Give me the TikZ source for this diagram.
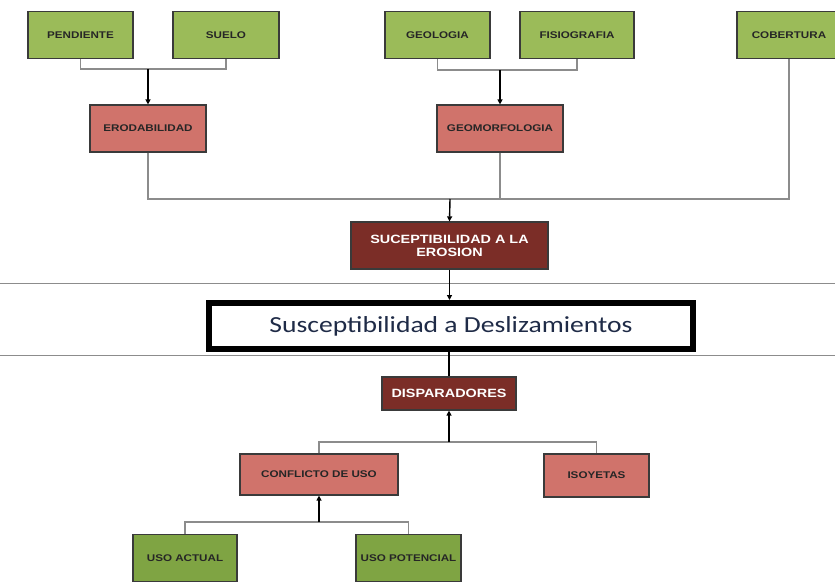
\documentclass[tikz,border=0pt]{standalone}
\usepackage{fontspec}
\setmainfont{Liberation Sans}
\newfontfamily\boxfont[FakeStretch=1.2]{Liberation Sans}
\newfontfamily\titlefont[FakeStretch=1.2]{Carlito}
\usetikzlibrary{arrows.meta}
\usetikzlibrary{positioning}
\definecolor{verde}{HTML}{9BBB59}
\definecolor{verdeosc}{HTML}{7FA443}
\definecolor{rojo}{HTML}{D0736B}
\definecolor{vino}{HTML}{7B2D27}
\definecolor{borde}{HTML}{3A3A3A}
\definecolor{gris}{HTML}{8C8C8C}
\definecolor{azul}{HTML}{1F2B47}

\begin{document}
\begin{tikzpicture}[x=1pt,y=-1pt,>={Triangle[width=5pt,length=5pt]}]
				\tikzset{caja/.style = {shape=rectangle, draw=borde, line width=1.2pt, inner sep=0pt, minimum height=47pt, text=black!85, align=center, font=\boxfont\bfseries\fontsize{9.7}{11}\selectfont},
					hoja/.style = {caja, fill=verde},
					factor/.style = {caja, fill=rojo},
					clave/.style = {caja, fill=vino, text=white, font=\boxfont\bfseries\fontsize{12}{13}\selectfont},
					enlace/.style = {draw=gris, line width=1.3pt},
					flecha/.style = {->, draw=black, line width=1.4pt}}
				\clip (0,0) rectangle (835,581);
				\fill[white] (0,0) rectangle (835,581);
				% separadores
				\draw[gris, line width=1pt] (0,283) -- (835,283);
				\draw[gris, line width=1pt] (0,355) -- (835,355);
				
				\node[hoja, minimum width=105pt] (PEND) at (80.5,35) {PENDIENTE};
				\node[hoja, minimum width=106pt] (SUELO) at (226,35) {SUELO};
				\node[hoja, minimum width=105pt] (GEOL) at (437.5,35) {GEOLOGIA};
				\node[hoja, minimum width=114pt] (FISIO) at (577,35) {FISIOGRAFIA};
				\node[hoja, minimum width=104pt] (COB) at (789,35) {COBERTURA};
				\node[factor, minimum width=116pt] (ERO) at (148,128.5) {ERODABILIDAD};
				\node[factor, minimum width=126pt] (GEOM) at (500,128.5) {GEOMORFOLOGIA};
				\node[clave, minimum width=197pt] (SUS) at (449.5,245.5) {SUCEPTIBILIDAD A LA\\EROSION};
				\node[draw=black, line width=6pt, minimum width=484pt, minimum height=46pt, inner sep=0pt, text=azul, font=\titlefont\fontsize{23}{26}\selectfont] (DESL) at (451,326) {Susceptibilidad a Deslizamientos};
				\node[clave, minimum width=134pt, minimum height=33pt] (DISP) at (449,393.5) {DISPARADORES};
				\node[factor, minimum width=158pt, minimum height=41pt] (CONF) at (319,474.5) {CONFLICTO DE USO};
				\node[factor, minimum width=105pt, minimum height=43pt] (ISO) at (596.5,475.5) {ISOYETAS};
				\node[hoja, fill=verdeosc, minimum width=104pt] (UACT) at (185,558) {USO ACTUAL};
				\node[hoja, fill=verdeosc, minimum width=105pt] (UPOT) at (408.5,558) {USO POTENCIAL};
				
				\coordinate (J1) at (148,69);
				\coordinate (J2) at (500,70);
				\coordinate (J3) at (450,199);
				\coordinate (J4) at (449,442);
				\coordinate (J5) at (319,522);
				
				\draw[enlace] (PEND.south) |- (J1) -| (SUELO.south);
				\draw[flecha] (J1) -- (ERO.north);
				\draw[enlace] (GEOL.south) |- (J2) -| (FISIO.south);
				\draw[flecha] (J2) -- (GEOM.north);
				\draw[enlace] (ERO.south) |- (J3) -| (COB.south);
				\draw[enlace] (GEOM.south) -- (GEOM.south |- J3);
				\draw[flecha] (J3) -- (SUS.north);
				\draw[flecha] (SUS.south) -- (SUS.south |- DESL.north);
				\draw[black, line width=1.4pt] (DESL.south -| DISP.north) -- (DISP.north);
				\draw[enlace] (CONF.north) |- (J4) -| (ISO.north);
				\draw[flecha] (J4) -- (DISP.south);
				\draw[enlace] (UACT.north) |- (J5) -| (UPOT.north);
				\draw[flecha] (J5) -- (CONF.south);
				
				\end{tikzpicture}
\end{document}
